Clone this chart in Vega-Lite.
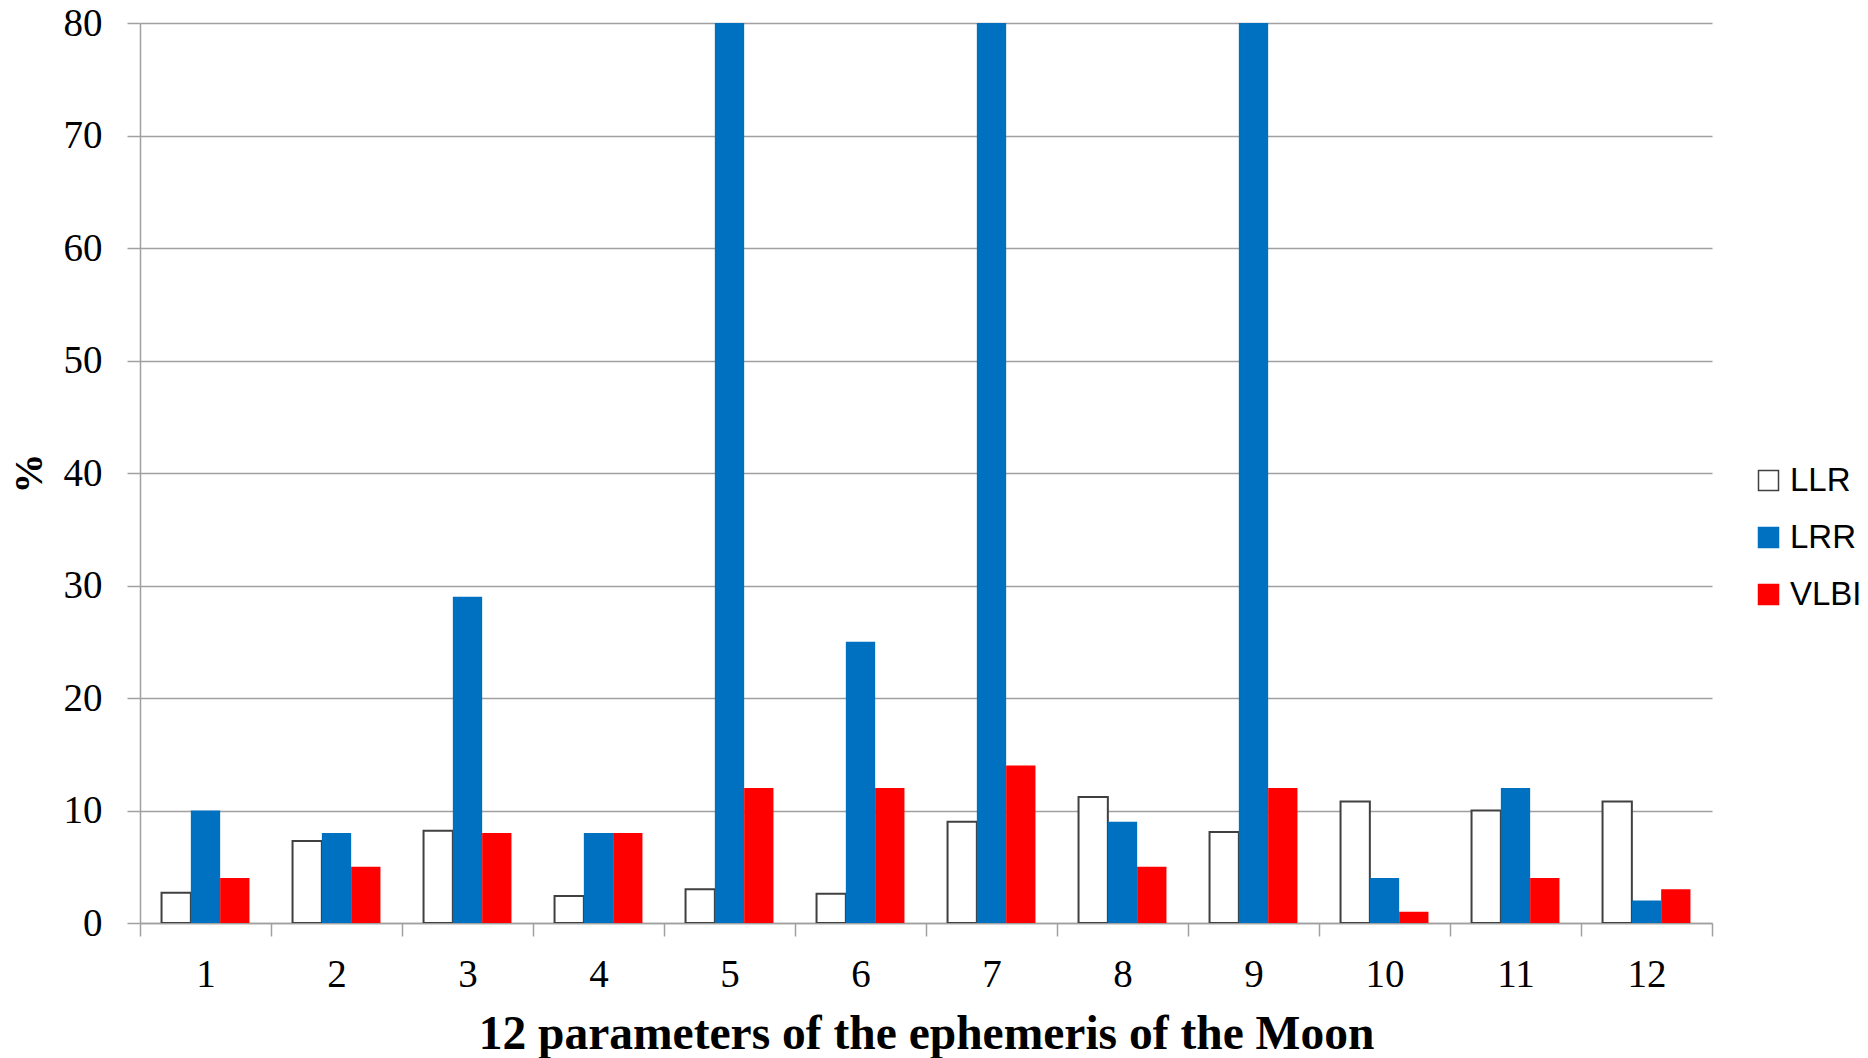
{
  "$schema": "https://vega.github.io/schema/vega-lite/v6.json",
  "autosize": "none",
  "width": 1572,
  "height": 900,
  "padding": {"left": 140, "top": 23, "right": 156, "bottom": 135},
  "background": "white",
  "config": {"view": {"stroke": null}},
  "data": {"values": [
    {"p": 1, "s": "LLR", "v": 2.7}, {"p": 1, "s": "LRR", "v": 10}, {"p": 1, "s": "VLBI", "v": 4},
    {"p": 2, "s": "LLR", "v": 7.3}, {"p": 2, "s": "LRR", "v": 8}, {"p": 2, "s": "VLBI", "v": 5},
    {"p": 3, "s": "LLR", "v": 8.2}, {"p": 3, "s": "LRR", "v": 29}, {"p": 3, "s": "VLBI", "v": 8},
    {"p": 4, "s": "LLR", "v": 2.4}, {"p": 4, "s": "LRR", "v": 8}, {"p": 4, "s": "VLBI", "v": 8},
    {"p": 5, "s": "LLR", "v": 3.0}, {"p": 5, "s": "LRR", "v": 80}, {"p": 5, "s": "VLBI", "v": 12},
    {"p": 6, "s": "LLR", "v": 2.6}, {"p": 6, "s": "LRR", "v": 25}, {"p": 6, "s": "VLBI", "v": 12},
    {"p": 7, "s": "LLR", "v": 9.0}, {"p": 7, "s": "LRR", "v": 80}, {"p": 7, "s": "VLBI", "v": 14},
    {"p": 8, "s": "LLR", "v": 11.2}, {"p": 8, "s": "LRR", "v": 9}, {"p": 8, "s": "VLBI", "v": 5},
    {"p": 9, "s": "LLR", "v": 8.1}, {"p": 9, "s": "LRR", "v": 80}, {"p": 9, "s": "VLBI", "v": 12},
    {"p": 10, "s": "LLR", "v": 10.8}, {"p": 10, "s": "LRR", "v": 4}, {"p": 10, "s": "VLBI", "v": 1},
    {"p": 11, "s": "LLR", "v": 10.0}, {"p": 11, "s": "LRR", "v": 12}, {"p": 11, "s": "VLBI", "v": 4},
    {"p": 12, "s": "LLR", "v": 10.8}, {"p": 12, "s": "LRR", "v": 2}, {"p": 12, "s": "VLBI", "v": 3}
  ]},
  "mark": {"type": "bar", "clip": true},
  "encoding": {
    "x": {
      "field": "p", "type": "ordinal",
      "scale": {"paddingInner": 0, "paddingOuter": 0},
      "axis": {
        "title": "12 parameters of the ephemeris of the Moon",
        "titleFont": "Liberation Serif", "titleFontSize": 47.5, "titleFontWeight": "bold", "titleColor": "black",
        "titleX": 786, "titleY": 125, "titleBaseline": "alphabetic", "titleAlign": "center",
        "labelAngle": 0, "labelFont": "Liberation Serif", "labelFontSize": 39, "labelColor": "black",
        "labelBaseline": "alphabetic", "labelPadding": 50,
        "tickBand": "extent", "tickSize": 13, "tickColor": "#a0a0a0", "tickWidth": 1.5,
        "domainColor": "#a0a0a0", "domainWidth": 1.5, "grid": false
      }
    },
    "xOffset": {"field": "s", "type": "nominal", "scale": {"paddingInner": 0, "paddingOuter": 0.735}},
    "y": {
      "field": "v", "type": "quantitative",
      "scale": {"domain": [0, 80], "nice": false},
      "axis": {
        "title": "%", "titleFont": "Liberation Serif", "titleFontSize": 40, "titleFontWeight": "bold", "titleColor": "black",
        "titleX": -111, "titleY": 450, "titleBaseline": "middle", "titleAlign": "center", "titleAngle": -90,
        "values": [0, 10, 20, 30, 40, 50, 60, 70, 80],
        "labelFont": "Liberation Serif", "labelFontSize": 39, "labelColor": "black", "labelPadding": 25,
        "tickSize": 13, "tickColor": "#a0a0a0", "tickWidth": 1.5,
        "domainColor": "#a0a0a0", "domainWidth": 1.5,
        "grid": true, "gridColor": "#a0a0a0", "gridWidth": 1.5
      }
    },
    "fill": {
      "field": "s", "type": "nominal",
      "scale": {"domain": ["LLR", "LRR", "VLBI"], "range": ["#FFFFFF", "#0070C0", "#FF0000"]},
      "legend": {
        "title": null, "orient": "none", "legendX": 1612, "legendY": 441,
        "symbolType": "square", "symbolSize": 400, "symbolStrokeWidth": 1.5,
        "labelFont": "Liberation Sans", "labelFontSize": 33, "labelColor": "black", "labelOffset": 5,
        "rowPadding": 23
      }
    },
    "stroke": {
      "field": "s", "type": "nominal",
      "scale": {"domain": ["LLR", "LRR", "VLBI"], "range": ["#404040", "#0070C0", "#FF0000"]}
    },
    "strokeWidth": {"condition": {"test": "datum.s === 'LLR'", "value": 2}, "value": 0}
  }
}
